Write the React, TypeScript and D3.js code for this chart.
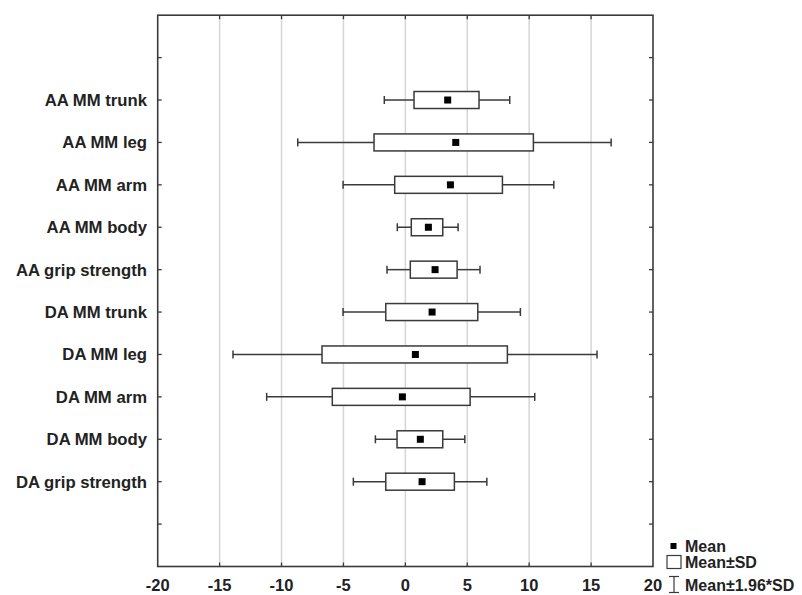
import { useEffect, useRef } from 'react';
import * as d3 from 'd3';

const categories = [
  'AA MM trunk',
  'AA MM leg',
  'AA MM arm',
  'AA MM body',
  'AA grip strength',
  'DA MM trunk',
  'DA MM leg',
  'DA MM arm',
  'DA MM body',
  'DA grip strength',
];

// values
const means = [3.42, 4.07, 3.64, 1.86, 2.4, 2.16, 0.81, -0.24, 1.21, 1.35];
const sdLow = [0.7, -2.53, -0.86, 0.48, 0.4, -1.58, -6.73, -5.9, -0.67, -1.58];
const sdHigh = [5.95, 10.34, 7.84, 3.02, 4.18, 5.85, 8.24, 5.23, 3.02, 3.96];
const ciLow = [-1.7, -8.69, -5.03, -0.65, -1.48, -5.03, -13.92, -11.2, -2.42, -4.2];
const ciHigh = [8.43, 16.62, 11.99, 4.26, 6.03, 9.29, 15.48, 10.45, 4.8, 6.58];

const xTicks = [-20, -15, -10, -5, 0, 5, 10, 15, 20];

export default function App() {
  const svgRef = useRef<SVGSVGElement>(null);

  useEffect(() => {
    if (!svgRef.current) return;
    const svg = d3.select(svgRef.current);
    svg.selectAll('*').remove();

    const width = 802;
    const height = 595;
    const left = 157.7;
    const right = 653;
    const top = 15.2;
    const bottom = 566.5;
    const font = '"Liberation Sans", Arial, sans-serif';
    const ink = '#222';
    const line = '#3a3a3a';

    svg.attr('width', width).attr('height', height);

    const x = d3.scaleLinear().domain([-20, 20]).range([left, right]);
    // 13 slots, categories sit on slots 2..11
    const y = d3.scaleLinear().domain([0, 13]).range([top, bottom]);

    const data = categories.map((name, i) => ({
      name,
      pos: i + 2,
      mean: means[i],
      lo: sdLow[i],
      hi: sdHigh[i],
      wLo: ciLow[i],
      wHi: ciHigh[i],
    }));

    // Grid
    svg.append('g')
      .selectAll('line')
      .data(xTicks.slice(1, -1))
      .enter()
      .append('line')
      .attr('x1', d => x(d))
      .attr('x2', d => x(d))
      .attr('y1', top)
      .attr('y2', bottom)
      .attr('stroke', '#d6d6d6')
      .attr('stroke-width', 1.5);

    // Frame
    svg.append('rect')
      .attr('x', left)
      .attr('y', top)
      .attr('width', right - left)
      .attr('height', bottom - top)
      .attr('fill', 'none')
      .attr('stroke', line)
      .attr('stroke-width', 1.6);

    // Inner ticks top / bottom / sides
    const tickG = svg.append('g').attr('stroke', line).attr('stroke-width', 1.3);
    xTicks.slice(1, -1).forEach(t => {
      tickG.append('line').attr('x1', x(t)).attr('x2', x(t)).attr('y1', top).attr('y2', top + 4);
      tickG.append('line').attr('x1', x(t)).attr('x2', x(t)).attr('y1', bottom).attr('y2', bottom - 4);
    });
    d3.range(1, 13).forEach(p => {
      tickG.append('line').attr('x1', left).attr('x2', left + 4).attr('y1', y(p)).attr('y2', y(p));
      tickG.append('line').attr('x1', right).attr('x2', right - 4).attr('y1', y(p)).attr('y2', y(p));
    });

    // X tick labels
    svg.append('g')
      .selectAll('text')
      .data(xTicks)
      .enter()
      .append('text')
      .attr('x', d => x(d))
      .attr('y', 591)
      .attr('text-anchor', 'middle')
      .attr('fill', ink)
      .style('font-family', font)
      .style('font-size', '16.5px')
      .style('font-weight', 'bold')
      .text(d => d);

    // Category labels
    svg.append('g')
      .selectAll('text')
      .data(data)
      .enter()
      .append('text')
      .attr('x', 147)
      .attr('y', d => y(d.pos))
      .attr('dy', '0.36em')
      .attr('text-anchor', 'end')
      .attr('fill', ink)
      .style('font-family', font)
      .style('font-size', '16.7px')
      .style('font-weight', 'bold')
      .text(d => d.name);

    // Boxes and whiskers
    const boxH = 17;
    const capH = 8;
    const rows = svg.append('g')
      .selectAll('g')
      .data(data)
      .enter()
      .append('g')
      .attr('stroke', line)
      .attr('stroke-width', 1.5);

    rows.append('line')
      .attr('x1', d => x(d.wLo))
      .attr('x2', d => x(d.lo))
      .attr('y1', d => y(d.pos))
      .attr('y2', d => y(d.pos));
    rows.append('line')
      .attr('x1', d => x(d.hi))
      .attr('x2', d => x(d.wHi))
      .attr('y1', d => y(d.pos))
      .attr('y2', d => y(d.pos));
    rows.append('line')
      .attr('x1', d => x(d.wLo))
      .attr('x2', d => x(d.wLo))
      .attr('y1', d => y(d.pos) - capH / 2)
      .attr('y2', d => y(d.pos) + capH / 2);
    rows.append('line')
      .attr('x1', d => x(d.wHi))
      .attr('x2', d => x(d.wHi))
      .attr('y1', d => y(d.pos) - capH / 2)
      .attr('y2', d => y(d.pos) + capH / 2);
    rows.append('rect')
      .attr('x', d => x(d.lo))
      .attr('y', d => y(d.pos) - boxH / 2)
      .attr('width', d => x(d.hi) - x(d.lo))
      .attr('height', boxH)
      .attr('fill', 'white');
    rows.append('rect')
      .attr('x', d => x(d.mean) - 3.5)
      .attr('y', d => y(d.pos) - 3.5)
      .attr('width', 7)
      .attr('height', 7)
      .attr('fill', '#000')
      .attr('stroke', 'none');

    // Legend
    const lg = svg.append('g');
    lg.append('rect')
      .attr('x', 670.5).attr('y', 543).attr('width', 6).attr('height', 6)
      .attr('fill', '#000');
    lg.append('rect')
      .attr('x', 667).attr('y', 555.5).attr('width', 14).attr('height', 13)
      .attr('fill', 'white').attr('stroke', line).attr('stroke-width', 1.2);
    const wx = 674;
    lg.append('line').attr('x1', wx).attr('x2', wx).attr('y1', 576.5).attr('y2', 592.5)
      .attr('stroke', line).attr('stroke-width', 1.2);
    lg.append('line').attr('x1', wx - 5).attr('x2', wx + 5).attr('y1', 576.5).attr('y2', 576.5)
      .attr('stroke', line).attr('stroke-width', 1.2);
    lg.append('line').attr('x1', wx - 5).attr('x2', wx + 5).attr('y1', 592.5).attr('y2', 592.5)
      .attr('stroke', line).attr('stroke-width', 1.2);

    lg.selectAll('text')
      .data([
        { t: 'Mean', y: 546 },
        { t: 'Mean±SD', y: 562 },
        { t: 'Mean±1.96*SD', y: 585 },
      ])
      .enter()
      .append('text')
      .attr('x', 685)
      .attr('y', d => d.y)
      .attr('dy', '0.36em')
      .attr('fill', ink)
      .style('font-family', font)
      .style('font-size', '16px')
      .style('font-weight', 'bold')
      .text(d => d.t);
  }, []);

  return (
    <div style={{ position: 'absolute', left: 0, top: 0, width: 802, height: 595, background: 'white' }}>
      <svg ref={svgRef}></svg>
    </div>
  );
}
